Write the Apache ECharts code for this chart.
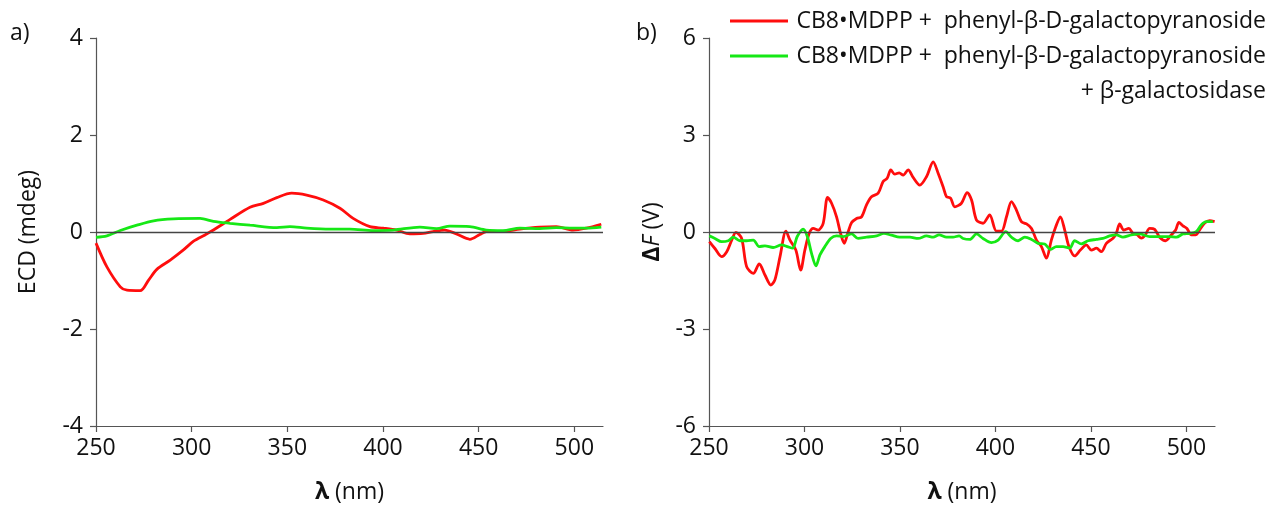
<!DOCTYPE html>
<html>
<head>
<meta charset="utf-8">
<script src="https://cdn.jsdelivr.net/npm/echarts@6/dist/echarts.min.js"></script>
<style>
  html, body { margin: 0; padding: 0; background: #fff; }
  #chart { width: 1272px; height: 505px; }
</style>
</head>
<body>
<div id="chart"></div>
<script>
// Wavelength axis ticks (nm)
const wavelengthTicks = [250, 300, 350, 400, 450, 500];
const ecdTicks = [-4, -2, 0, 2, 4];
const dfTicks = [-6, -3, 0, 3, 6];

const legendRed = 'CB8\u2022MDPP +  phenyl-\u03b2-D-galactopyranoside';
const legendGreen = 'CB8\u2022MDPP +  phenyl-\u03b2-D-galactopyranoside';
const legendGreen2 = '+ \u03b2-galactosidase';

// Panel a) ECD spectra
const ecdRedX = [250, 255.7, 262.7, 266.2, 273.1, 277.5, 281.8, 288.8, 295.7, 301, 307, 311.4, 320.1, 330.5, 337.5, 344.5, 352.3, 360.1, 368.8, 377.5, 384.4, 393.2, 400.1, 407.1, 414, 421, 426.2, 432.3, 438.4, 445.4, 450.6, 454.1, 462.7, 471.5, 481.9, 490.6, 499.3, 506.3, 514.1];
const ecdRedY = [-0.23, -0.72, -1.13, -1.2, -1.21, -0.99, -0.77, -0.58, -0.37, -0.19, -0.06, 0.04, 0.26, 0.51, 0.59, 0.71, 0.8, 0.76, 0.66, 0.49, 0.28, 0.11, 0.08, 0.04, -0.04, -0.03, 0.01, 0.04, -0.04, -0.15, -0.05, 0.01, 0.01, 0.06, 0.1, 0.11, 0.04, 0.08, 0.16];
const ecdGreenX = [250, 255.7, 262.7, 271.4, 280.1, 290.5, 304.4, 311.4, 320.1, 330.5, 344.5, 351.4, 360.1, 372.3, 382.7, 394.9, 405.3, 419.3, 428, 435, 445.4, 454.1, 462.7, 471.5, 481.9, 490.6, 499.3, 506.3, 514.1];
const ecdGreenY = [-0.11, -0.08, 0.03, 0.14, 0.23, 0.27, 0.28, 0.22, 0.18, 0.14, 0.09, 0.11, 0.08, 0.06, 0.06, 0.03, 0.04, 0.1, 0.07, 0.12, 0.11, 0.04, 0.03, 0.08, 0.07, 0.09, 0.08, 0.08, 0.1];

// Panel b) fluorescence difference
const dfRedX = [250.2, 253.1, 256.6, 259.3, 261.9, 264.1, 267.1, 269.7, 273.2, 276.3, 279.3, 282.4, 284.5, 287.2, 290.3, 292.4, 295.5, 298, 300.2, 302.5, 304.6, 307.2, 309.8, 312.1, 314.2, 316.8, 318.9, 320.8, 322.9, 324.7, 327.3, 329.9, 332.5, 335.1, 338.6, 341.2, 343.3, 345.2, 347.3, 349.6, 351.7, 354.3, 356.9, 360.4, 363.9, 367.4, 370, 372.6, 374.4, 376.5, 378.7, 382.2, 385.2, 387.5, 390.1, 393.5, 397, 400.5, 403.2, 405.8, 408.4, 411, 413.6, 416.3, 418.9, 421.5, 424.1, 426.7, 429.3, 431.6, 434, 436.3, 438.5, 441.5, 444.5, 447.6, 450.3, 452.9, 455.5, 458.1, 461.6, 463.3, 465.1, 467.2, 469.9, 472, 474.3, 476.4, 478.2, 480.8, 483.4, 486, 489.1, 492.1, 494.4, 496.1, 498.2, 500.3, 502.6, 504.8, 506.9, 509.5, 512.2, 514.8];
const dfRedY = [-0.3, -0.51, -0.76, -0.61, -0.25, -0.01, -0.2, -1.07, -1.28, -0.99, -1.33, -1.64, -1.48, -0.76, 0.03, -0.25, -0.56, -1.18, -0.56, -0.04, 0.11, 0.06, 0.27, 1.07, 0.89, 0.47, -0.04, -0.35, 0.01, 0.29, 0.42, 0.47, 0.84, 1.09, 1.2, 1.56, 1.66, 1.92, 1.79, 1.83, 1.76, 1.92, 1.69, 1.45, 1.71, 2.17, 1.82, 1.4, 1.09, 1.05, 0.78, 0.89, 1.22, 0.99, 0.37, 0.27, 0.53, 0.03, 0.03, 0.47, 0.94, 0.68, 0.32, 0.25, 0.11, -0.25, -0.45, -0.81, -0.25, 0.16, 0.47, 0.06, -0.45, -0.74, -0.56, -0.4, -0.56, -0.5, -0.61, -0.35, -0.19, -0.04, 0.25, 0.06, 0.11, -0.04, -0.09, -0.19, -0.12, 0.11, 0.08, -0.16, -0.27, -0.09, 0.06, 0.3, 0.19, 0.11, -0.09, -0.09, 0.06, 0.27, 0.35, 0.32];
const dfGreenX = [250.2, 253.1, 256.6, 260.1, 262.7, 266.2, 269.7, 273.2, 276.3, 279.3, 283.6, 288, 291, 293.8, 296.2, 299.3, 301.5, 303.7, 306, 308.1, 310.7, 313.7, 316.8, 320.3, 324.7, 328.1, 332.5, 337.8, 341.6, 345.6, 349.9, 355.2, 359.5, 363.9, 367.4, 370.5, 374.4, 377.8, 381, 383.1, 386.6, 390.1, 393.5, 397.9, 401.4, 405.4, 408.4, 411.9, 415.4, 418.9, 422.3, 425.8, 428.8, 431.9, 435.4, 438.9, 441.5, 445, 448.5, 452.9, 456.3, 459.8, 463.3, 466.8, 471.2, 475.5, 480.8, 486, 491.3, 494.8, 498.2, 501.7, 505.2, 507.8, 510.4, 513.9];
const dfGreenY = [-0.12, -0.2, -0.3, -0.27, -0.16, -0.27, -0.27, -0.25, -0.45, -0.43, -0.48, -0.4, -0.45, -0.5, -0.14, 0.09, -0.14, -0.66, -1.05, -0.71, -0.45, -0.2, -0.12, -0.14, -0.06, -0.2, -0.16, -0.12, -0.04, -0.1, -0.16, -0.16, -0.2, -0.12, -0.16, -0.09, -0.16, -0.16, -0.12, -0.2, -0.23, -0.06, -0.2, -0.33, -0.25, 0.01, -0.16, -0.27, -0.16, -0.23, -0.35, -0.37, -0.54, -0.45, -0.45, -0.5, -0.27, -0.37, -0.27, -0.23, -0.2, -0.12, -0.09, -0.16, -0.09, -0.06, -0.14, -0.14, -0.14, -0.16, -0.06, -0.04, 0.01, 0.22, 0.32, 0.32];

const RED = '#ff0d0d';
const GREEN = '#16e816';
const FONT = '"Open Sans", "Noto Sans", sans-serif';
const FS = 23;
const TEXT = '#111';
const AXIS = '#555';

const pairs = (xs, ys) => xs.map((x, i) => [x, ys[i]]);

function xAxisFor(gridIndex) {
  return {
    type: 'value', gridIndex, min: 250, max: 515,
    name: '{b|\u03bb} (nm)', nameLocation: 'middle', nameGap: 55,
    nameTextStyle: {
      fontFamily: FONT, fontSize: FS, color: TEXT,
      rich: { b: { fontFamily: FONT, fontSize: FS, fontWeight: 'bold', color: TEXT } }
    },
    axisLine: { show: true, onZero: false, lineStyle: { color: AXIS, width: 1.2 } },
    axisTick: { show: true, inside: false, length: 6, customValues: wavelengthTicks, lineStyle: { color: AXIS, width: 1.2 } },
    axisLabel: { customValues: wavelengthTicks, margin: 11, fontFamily: FONT, fontSize: FS, color: TEXT },
    splitLine: { show: false }
  };
}

function yAxisFor(gridIndex, ticks, name, gap, rich) {
  return {
    type: 'value', gridIndex, min: ticks[0], max: ticks[ticks.length - 1],
    interval: ticks[1] - ticks[0],
    name, nameLocation: 'middle', nameGap: gap,
    nameTextStyle: { fontFamily: FONT, fontSize: FS, color: TEXT, rich },
    axisLine: { show: true, onZero: false, lineStyle: { color: AXIS, width: 1.2 } },
    axisTick: { show: true, inside: false, length: 6, lineStyle: { color: AXIS, width: 1.2 } },
    axisLabel: { margin: 13, fontFamily: FONT, fontSize: FS, color: TEXT },
    splitLine: { show: false }
  };
}

const zeroLine = {
  silent: true, symbol: 'none', animation: false,
  label: { show: false },
  lineStyle: { color: '#444', width: 1.3, type: 'solid' },
  data: [{ yAxis: 0 }]
};

function lineSeries(name, data, color, axisIndex, withZero) {
  const s = {
    name, type: 'line', data, xAxisIndex: axisIndex, yAxisIndex: axisIndex,
    showSymbol: false, smooth: 0.3, animation: false,
    lineStyle: { color, width: 2.8 }, itemStyle: { color }
  };
  if (withZero) s.markLine = zeroLine;
  return s;
}

const chart = echarts.init(document.getElementById('chart'), null, { renderer: 'canvas' });
chart.setOption({
  backgroundColor: '#fff',
  animation: false,
  grid: [
    { left: 96, right: 669, top: 38, bottom: 79, containLabel: false, outerBoundsMode: 'none' },
    { left: 709, right: 57, top: 38, bottom: 79, containLabel: false, outerBoundsMode: 'none' }
  ],
  xAxis: [xAxisFor(0), xAxisFor(1)],
  yAxis: [
    yAxisFor(0, ecdTicks, 'ECD (mdeg)', 56),
    yAxisFor(1, dfTicks, '{d|\u0394}{f|F} (V)', 45, {
      d: { fontFamily: FONT, fontSize: FS, fontWeight: 'bold', color: TEXT },
      f: { fontFamily: FONT, fontSize: FS, fontStyle: 'italic', color: TEXT }
    })
  ],
  graphic: [
    { type: 'text', left: 10, top: 22, style: { text: 'a)', font: FS + 'px ' + FONT, fill: TEXT } },
    { type: 'text', left: 636, top: 22, style: { text: 'b)', font: FS + 'px ' + FONT, fill: TEXT } },
    { type: 'line', shape: { x1: 730, y1: 21, x2: 788, y2: 21 }, style: { stroke: RED, lineWidth: 3 } },
    { type: 'text', x: 1266, y: 21, style: { text: legendRed, font: FS + 'px ' + FONT, fill: TEXT, align: 'right', verticalAlign: 'middle' } },
    { type: 'line', shape: { x1: 730, y1: 56, x2: 788, y2: 56 }, style: { stroke: GREEN, lineWidth: 3 } },
    { type: 'text', x: 1266, y: 56, style: { text: legendGreen, font: FS + 'px ' + FONT, fill: TEXT, align: 'right', verticalAlign: 'middle' } },
    { type: 'text', x: 1266, y: 91, style: { text: legendGreen2, font: FS + 'px ' + FONT, fill: TEXT, align: 'right', verticalAlign: 'middle' } }
  ],
  series: [
    lineSeries(legendRed, pairs(ecdRedX, ecdRedY), RED, 0, true),
    lineSeries(legendGreen + ' ' + legendGreen2, pairs(ecdGreenX, ecdGreenY), GREEN, 0, false),
    lineSeries(legendRed, pairs(dfRedX, dfRedY), RED, 1, true),
    lineSeries(legendGreen + ' ' + legendGreen2, pairs(dfGreenX, dfGreenY), GREEN, 1, false)
  ]
});
</script>
</body>
</html>
